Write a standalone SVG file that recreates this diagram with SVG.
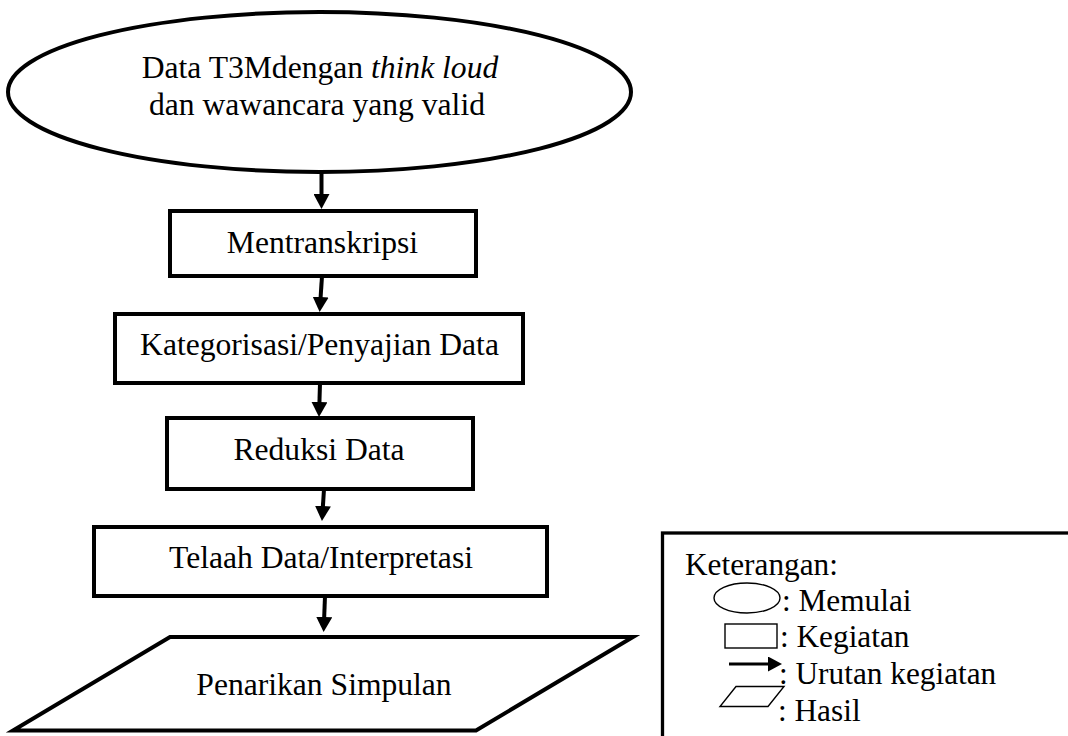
<svg xmlns="http://www.w3.org/2000/svg" width="1068" height="736" viewBox="0 0 1068 736">
<defs>
<style>
.s{fill:#fff;stroke:#000;stroke-width:4}
.t{font-family:"Liberation Serif","Times New Roman",serif;font-size:31.6px;fill:#000;text-anchor:middle}
.l{font-family:"Liberation Serif","Times New Roman",serif;font-size:31.3px;fill:#000}
.c{stroke:#000;stroke-width:4;fill:none}
.ls{fill:#fff;stroke:#000;stroke-width:1.4}
</style>
<marker id="ah" markerWidth="4" markerHeight="4" refX="1.25" refY="2" orient="auto" markerUnits="strokeWidth"><path d="M0,0 L3.75,2 L0,4 Z" fill="#000"/></marker>
<marker id="ah2" markerWidth="5" markerHeight="5" refX="2" refY="2.5" orient="auto" markerUnits="strokeWidth"><path d="M0,0 L4.67,2.5 L0,5 Z" fill="#000"/></marker>
</defs>
<g id="connectors">
<path class="c" d="M321.5,172 L321.5,199" marker-end="url(#ah)"/>
<path class="c" d="M322,276 L320.3,302" marker-end="url(#ah)"/>
<path class="c" d="M320,383 L319.3,407" marker-end="url(#ah)"/>
<path class="c" d="M324,489 L322.6,511" marker-end="url(#ah)"/>
<path class="c" d="M325,596 L324,622" marker-end="url(#ah)"/>
</g>
<g id="start">
<ellipse class="s" cx="319.5" cy="92" rx="311.5" ry="80"/>
<text class="t" x="320" y="78">Data T3Mdengan <tspan font-style="italic">think loud</tspan></text>
<text class="t" x="317" y="115">dan wawancara yang valid</text>
</g>
<g id="mentranskripsi">
<rect class="s" x="170" y="211" width="306" height="65"/>
<text class="t" x="322.5" y="253">Mentranskripsi</text>
</g>
<g id="kategorisasi">
<rect class="s" x="115" y="314" width="408" height="69"/>
<text class="t" x="319.5" y="355">Kategorisasi/Penyajian Data</text>
</g>
<g id="reduksi">
<rect class="s" x="167" y="418" width="306" height="71"/>
<text class="t" x="319" y="460">Reduksi Data</text>
</g>
<g id="telaah">
<rect class="s" x="94" y="527" width="453" height="69"/>
<text class="t" x="321" y="568">Telaah Data/Interpretasi</text>
</g>
<g id="simpulan">
<polygon class="s" points="170,637 633,637 476,730.5 13,730.5"/>
<text class="t" x="324" y="695">Penarikan Simpulan</text>
</g>
<g id="legend">
<rect x="662.5" y="533" width="430" height="220" fill="#fff" stroke="#000" stroke-width="3.3"/>
<text class="l" x="685" y="575">Keterangan:</text>
<ellipse class="ls" cx="747" cy="598" rx="33" ry="15"/>
<text class="l" x="782" y="611">: Memulai</text>
<rect class="ls" x="725" y="624" width="52" height="24"/>
<text class="l" x="780" y="647">: Kegiatan</text>
<path d="M729,664 L774,664" stroke="#000" stroke-width="3" marker-end="url(#ah2)"/>
<text class="l" x="779" y="684">: Urutan kegiatan</text>
<polygon class="ls" points="736,686.5 784,686.5 768,706.5 720,706.5"/>
<text class="l" x="778" y="721">: Hasil</text>
</g>
</svg>
